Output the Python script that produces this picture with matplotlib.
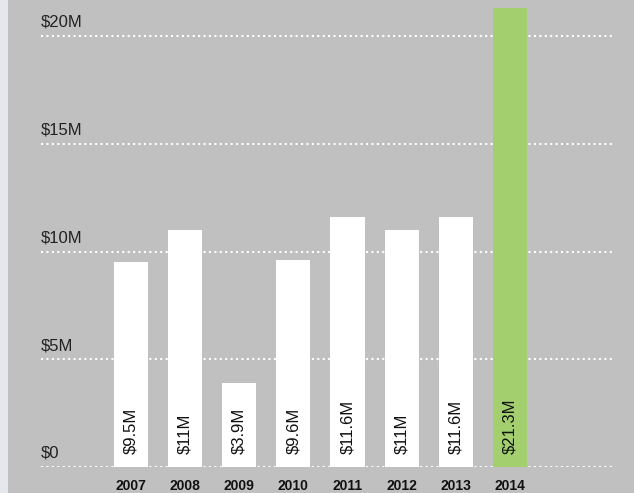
import matplotlib.pyplot as plt
from matplotlib.patches import Rectangle
import matplotlib.transforms as mtransforms

years = ["2007", "2008", "2009", "2010", "2011", "2012", "2013", "2014"]
values = [9.5, 11, 3.9, 9.6, 11.6, 11, 11.6, 21.3]
bar_labels = ["$9.5M", "$11M", "$3.9M", "$9.6M", "$11.6M", "$11M", "$11.6M", "$21.3M"]
y_ticks = [0, 5, 10, 15, 20]
y_tick_labels = ["$0", "$5M", "$10M", "$15M", "$20M"]

BG = "#c0c0c0"
GREEN = "#a3cf6f"

plt.rcParams['font.family'] = ['Liberation Sans', 'DejaVu Sans']

fig = plt.figure(figsize=(6.34, 4.93), dpi=100, facecolor=BG)
# light strip on the left edge
fig.patches.append(Rectangle((0, 0), 8 / 634, 1, transform=fig.transFigure,
                             facecolor="#e4e7eb", edgecolor="none", zorder=0))

ax = fig.add_axes([41 / 634, 26 / 493, 574 / 634, 459 / 493])
ax.set_facecolor(BG)

x = list(range(len(years)))
colors = ["white"] * (len(years) - 1) + [GREEN]
ax.bar(x, values, width=0.63, color=colors, zorder=2)

for v in y_ticks:
    ax.axhline(v, color="white", linewidth=1.5, linestyle=(0, (1, 1.6)), zorder=1)

blend = mtransforms.blended_transform_factory(ax.transAxes, ax.transData)
for v, lab in zip(y_ticks, y_tick_labels):
    ax.annotate(lab, (0, v), xycoords=blend, xytext=(0, 4.5), textcoords="offset points",
                ha="left", va="bottom", fontsize=12, color="#222222")

for xi, lab in zip(x, bar_labels):
    ax.annotate(lab, (xi, 0), xytext=(0, 9.5), textcoords="offset points",
                rotation=90, ha="center", va="bottom", fontsize=12, color="#111111")

ax.set_xlim(-1.662, 8.94)
ax.set_ylim(0, 21.3)
ax.set_xticks(x)
ax.set_xticklabels(years, fontsize=10, fontweight="bold", color="#111111")
ax.tick_params(axis="x", length=0, pad=8.5)
ax.set_yticks([])
for s in ax.spines.values():
    s.set_visible(False)

fig.savefig("out.png", dpi=100, facecolor=BG)
